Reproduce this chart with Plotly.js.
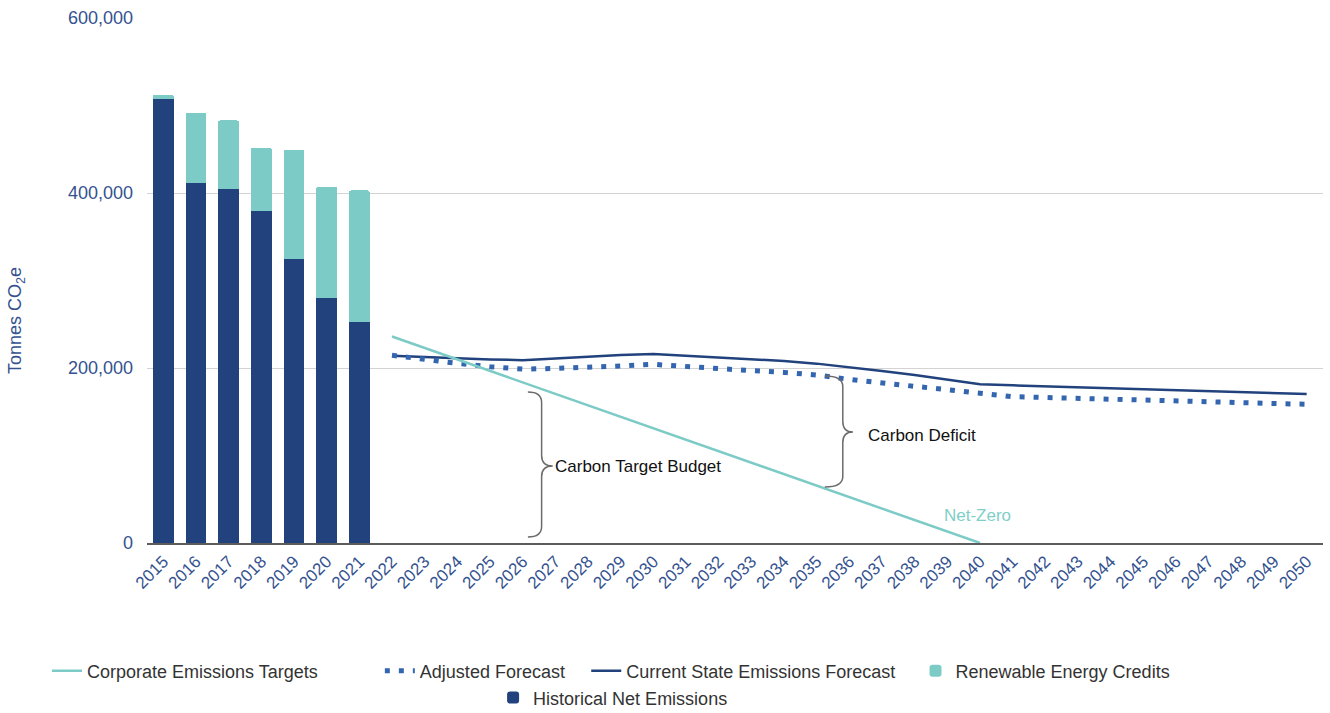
<!DOCTYPE html>
<html>
<head>
<meta charset="utf-8">
<script src="https://cdn.plot.ly/plotly-3.0.1.min.js"></script>
<style>html,body{margin:0;padding:0;background:#fff;}#chart{width:1330px;height:713px;}</style>
</head>
<body>
<div id="chart"></div>
<script>
// ---- data ----
const years = ["2015","2016","2017","2018","2019","2020","2021","2022","2023","2024","2025","2026","2027","2028","2029","2030","2031","2032","2033","2034","2035","2036","2037","2038","2039","2040","2041","2042","2043","2044","2045","2046","2047","2048","2049","2050"];
const histYears = ["2015","2016","2017","2018","2019","2020","2021"];
const historicalNet = [508000, 412000, 405000, 380000, 325000, 280000, 253000];
const renewableCredits = [4000, 80000, 78000, 72000, 124000, 127000, 150000];
const forecastYears = ["2022","2023","2024","2025","2026","2027","2028","2029","2030","2031","2032","2033","2034","2035","2036","2037","2038","2039","2040","2041","2042","2043","2044","2045","2046","2047","2048","2049","2050"];
const currentState = [214000, 212500, 211000, 209800, 209000, 211000, 213000, 214800, 216000, 214000, 212200, 210000, 208000, 205000, 201000, 196500, 192000, 187000, 181300, 180200, 179100, 178000, 177000, 176000, 174900, 173800, 172700, 171500, 170300];
const adjustedForecast = [214500, 209500, 205300, 201500, 198800, 199500, 200400, 202300, 204200, 201500, 199200, 197000, 195000, 192000, 187000, 183000, 178700, 174500, 170000, 167200, 166300, 165400, 164500, 162700, 161800, 160900, 160000, 159200, 158500];
const targetYears = ["2022", "2040"];
const corporateTargets = [236000, 0];
const yTicks = [0, 200000, 400000, 600000];

// ---- styles ----
const navy = "#21427c";
const teal = "#7ccbc6";
const dotBlue = "#3466b0";
const axisText = "#34528f";

const traces = [
  {type:"bar", x:histYears, y:historicalNet, name:"Historical Net Emissions",
   marker:{color:navy}, legend:"legend5", hoverinfo:"x+y"},
  {type:"bar", x:histYears, y:renewableCredits, name:"Renewable Energy Credits",
   marker:{color:teal}, legend:"legend4", hoverinfo:"x+y"},
  {type:"scatter", mode:"lines", x:forecastYears, y:currentState, name:"Current State Emissions Forecast",
   line:{color:navy, width:2.5}, legend:"legend3"},
  {type:"scatter", mode:"lines", x:forecastYears, y:adjustedForecast, name:"Adjusted Forecast",
   line:{color:dotBlue, width:5, dash:"5px,9px"}, legend:"legend2"},
  {type:"scatter", mode:"lines", x:targetYears, y:corporateTargets, name:"Corporate Emissions Targets",
   line:{color:teal, width:2.5}, legend:"legend"}
];

function brace(x0, xs, xc, yTop, yMid, yBot, r) {
  return `M ${x0},${yTop} Q ${xs},${yTop} ${xs},${yTop - r} L ${xs},${yMid + r} Q ${xs},${yMid} ${xc},${yMid} ` +
         `Q ${xs},${yMid} ${xs},${yMid - r} L ${xs},${yBot + r} Q ${xs},${yBot} ${x0},${yBot}`;
}

const legFont = {family:"Liberation Sans, Arial, sans-serif", size:18, color:"#333"};
function leg(x, y) {
  return {x:x, y:y, xanchor:"left", yanchor:"middle", orientation:"h", font:legFont,
          bgcolor:"rgba(0,0,0,0)", itemwidth:30, traceorder:"normal"};
}

const layout = {
  width:1330, height:713,
  margin:{l:147, r:7, t:18, b:170, autoexpand:false},
  paper_bgcolor:"#fff", plot_bgcolor:"#fff",
  font:{family:"Liberation Sans, Arial, sans-serif", color:axisText},
  barmode:"stack", bargap:0.36, barcornerradius:2,
  showlegend:true,
  xaxis:{type:"category", categoryorder:"array", categoryarray:years, tickvals:years, ticktext:years,
         tickangle:-45, tickfont:{size:17, color:axisText}, showgrid:false, showline:true,
         linecolor:"#5c5c5c", linewidth:2, ticks:"", range:[-0.5, 35.5], fixedrange:true, automargin:false},
  yaxis:{range:[0, 600000], tickvals:yTicks, tickformat:",d", tickfont:{size:18, color:axisText},
         showgrid:true, gridcolor:"#d3d3d3", gridwidth:1, zeroline:false, showline:false, ticks:"",
         ticklabelstandoff:13, fixedrange:true, automargin:false},
  legend: leg(-0.085, -0.244),
  legend2: leg(0.198, -0.244),
  legend3: leg(0.3735, -0.244),
  legend4: leg(0.6535, -0.244),
  legend5: leg(0.2943, -0.295),
  shapes:[
    {type:"path", xref:"x", yref:"y", path:brace(11.16, 11.58, 11.92, 172600, 88000, 6900, 12000),
     line:{color:"#6b6b6b", width:1.5}},
    {type:"path", xref:"x", yref:"y", path:brace(20.25, 20.80, 21.11, 190900, 126900, 64000, 12000),
     line:{color:"#6b6b6b", width:1.5}}
  ],
  annotations:[
    {xref:"paper", yref:"paper", x:-0.1105, y:0.423, text:"Tonnes CO<sub>2</sub>e", textangle:-90,
     showarrow:false, font:{size:18, color:axisText}, xanchor:"center", yanchor:"middle"},
    {xref:"x", yref:"y", x:11.92, y:88000, text:"Carbon Target Budget", showarrow:false,
     xanchor:"left", yanchor:"middle", font:{size:17, color:"#111"}},
    {xref:"x", yref:"y", x:21.5, y:123400, text:"Carbon Deficit", showarrow:false,
     xanchor:"left", yanchor:"middle", font:{size:17, color:"#111"}},
    {xref:"x", yref:"y", x:24.93, y:31200, text:"Net-Zero", showarrow:false,
     xanchor:"center", yanchor:"middle", font:{size:17, color:"#7fcfc8"}}
  ]
};

Plotly.newPlot("chart", traces, layout, {displayModeBar:false, staticPlot:true});
</script>
</body>
</html>
